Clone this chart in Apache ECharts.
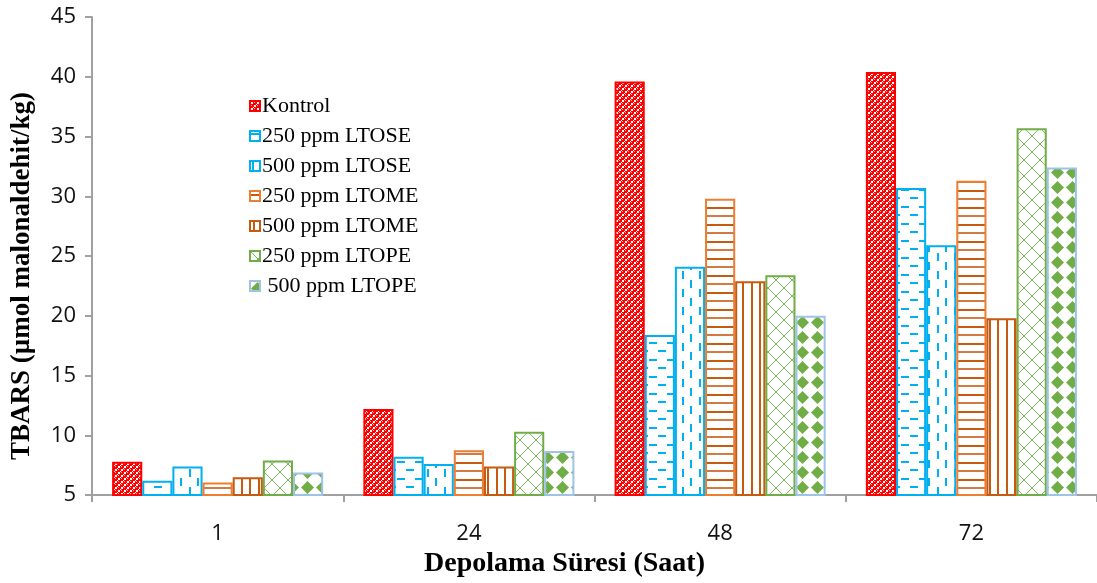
<!DOCTYPE html>
<html>
<head>
<meta charset="utf-8">
<script src="https://cdn.jsdelivr.net/npm/echarts@6/dist/echarts.min.js"></script>
<style>
  html, body { margin: 0; padding: 0; background: #fff; overflow: hidden; }
  #chart { width: 1097px; height: 583px; }
</style>
</head>
<body>
<div id="chart"></div>
<script>
// Storage time (hours)
const categories = ['1', '24', '48', '72'];

// TBARS values, µmol malonaldehyde / kg
const kontrol   = [7.8, 12.2, 39.6, 40.4];
const ltose250  = [6.2, 8.2, 18.4, 30.7];
const ltose500  = [7.4, 7.6, 24.1, 25.9];
const ltome250  = [6.05, 8.75, 29.8, 31.3];
const ltome500  = [6.5, 7.4, 22.9, 19.8];
const ltope250  = [7.9, 10.3, 23.4, 35.7];
const ltope500  = [6.9, 8.7, 20.0, 32.4];

const seriesNames = ['Kontrol', '250 ppm LTOSE', '500 ppm LTOSE', '250 ppm LTOME',
                     '500 ppm LTOME', '250 ppm LTOPE', ' 500 ppm LTOPE'];

const yTicks = { min: 5, max: 45, step: 5 };

// ---- fill patterns -------------------------------------------------------
function tile(w, h, draw) {
  const c = document.createElement('canvas');
  c.width = w; c.height = h;
  const g = c.getContext('2d');
  g.fillStyle = '#ffffff';
  g.fillRect(0, 0, w, h);
  draw(g, w, h);
  return { image: c, repeat: 'repeat' };
}

const patterns = {
  confetti: tile(6, 6, g => {
    g.fillStyle = '#ff0000';
    g.fillRect(0, 0, 6, 6);
    g.fillStyle = '#ffffff';
    g.fillRect(1, 1, 2, 2);
    g.fillRect(4, 4, 2, 2);
    g.fillRect(0, 3, 1, 1);
    g.fillRect(3, 0, 1, 1);
    g.fillStyle = '#ffb4b4';
    g.fillRect(4, 1, 1, 1);
    g.fillRect(1, 4, 1, 1);
  }),
  dashH: tile(18, 17, g => {
    g.fillStyle = '#00b0f0';
    g.fillRect(1, 2, 8, 2);
    g.fillRect(10, 10, 8, 2);
  }),
  dashV: tile(17, 18, g => {
    g.fillStyle = '#00b0f0';
    g.fillRect(2, 1, 2, 8);
    g.fillRect(10, 10, 2, 8);
  }),
  lineH: tile(4, 17, g => {
    g.fillStyle = '#c55a11';
    g.fillRect(0, 3, 4, 2);
    g.fillStyle = '#d27a44';
    g.fillRect(0, 11, 4, 2);
  }),
  lineV: tile(17, 4, g => {
    g.fillStyle = '#c55a11';
    g.fillRect(3, 0, 2, 4);
    g.fillRect(11, 0, 2, 4);
  }),
  trellis: tile(16, 16, g => {
    g.fillStyle = '#7fb85a';
    for (let i = 0; i < 16; i++) {
      g.fillRect(i, i, 1, 1);
      g.fillRect(15 - i, i, 1, 1);
    }
  }),
  diamonds: tile(15, 15, g => {
    g.fillStyle = '#70ad47';
    g.beginPath();
    g.moveTo(7.5, 1);
    g.lineTo(14, 7.5);
    g.lineTo(7.5, 14);
    g.lineTo(1, 7.5);
    g.closePath();
    g.fill();
  })
};

const looks = [
  { fill: patterns.confetti, border: '#ff0000' },
  { fill: patterns.dashH,    border: '#00b0f0' },
  { fill: patterns.dashV,    border: '#00b0f0' },
  { fill: patterns.lineH,    border: '#ed7d31' },
  { fill: patterns.lineV,    border: '#c55a11' },
  { fill: patterns.trellis,  border: '#70ad47' },
  { fill: patterns.diamonds, border: '#9dc3e6' }
];

const seriesData = [kontrol, ltose250, ltose500, ltome250, ltome500, ltope250, ltope500];

const series = seriesData.map((vals, i) => ({
  name: seriesNames[i],
  type: 'bar',
  data: vals,
  barGap: '0%',
  barCategoryGap: '16%',
  itemStyle: {
    color: looks[i].fill,
    borderColor: looks[i].border,
    borderWidth: 2
  },
  emphasis: { disabled: true }
}));

const axisGrey = '#a0a0a0';

const chart = echarts.init(document.getElementById('chart'), null, { renderer: 'canvas' });
chart.setOption({
  animation: false,
  backgroundColor: '#ffffff',
  grid: { left: 92, top: 17, width: 1006, height: 480, containLabel: false },
  legend: {
    orient: 'vertical',
    left: 244,
    top: 90,
    itemWidth: 10,
    itemHeight: 10,
    itemGap: 8,
    icon: 'rect',
    selectedMode: false,
    textStyle: {
      fontFamily: '"Liberation Serif", "DejaVu Serif", serif',
      fontSize: 22,
      lineHeight: 20,
      color: '#000',
      padding: [0, 0, 0, -3]
    },
    data: seriesNames
  },
  xAxis: {
    type: 'category',
    data: categories,
    boundaryGap: true,
    name: 'Depolama Süresi (Saat)',
    nameLocation: 'middle',
    nameGap: 54,
    nameTextStyle: {
      fontFamily: '"Liberation Serif", serif',
      fontWeight: 'bold',
      fontSize: 28,
      color: '#000',
      padding: [0, 60, 0, 0]
    },
    axisLine: { lineStyle: { color: axisGrey, width: 2 } },
    axisTick: { show: true, interval: 0, length: 7, lineStyle: { color: axisGrey, width: 2 } },
    axisLabel: {
      margin: 28,
      fontFamily: '"Open Sans", "Noto Sans", sans-serif',
      fontSize: 22,
      color: '#111'
    },
    splitLine: { show: false }
  },
  yAxis: {
    type: 'value',
    min: yTicks.min,
    max: yTicks.max,
    interval: yTicks.step,
    name: 'TBARS (µmol malonaldehit/kg)',
    nameLocation: 'middle',
    nameGap: 56,
    nameTextStyle: {
      fontFamily: '"Liberation Serif", serif',
      fontWeight: 'bold',
      fontSize: 27,
      color: '#000',
      padding: [0, 40, 0, 0]
    },
    axisLine: { show: true, lineStyle: { color: axisGrey, width: 2 } },
    axisTick: { show: true, length: 7, lineStyle: { color: axisGrey, width: 2 } },
    axisLabel: {
      margin: 16,
      fontFamily: '"Open Sans", "Noto Sans", sans-serif',
      fontSize: 22,
      color: '#111'
    },
    splitLine: { show: false }
  },
  series: series
});
</script>
</body>
</html>
